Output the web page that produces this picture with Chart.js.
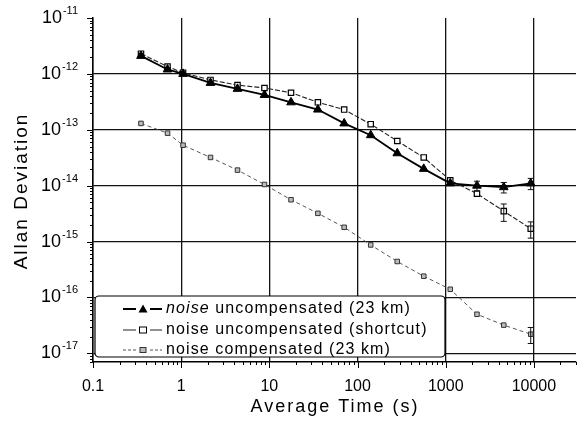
<!DOCTYPE html>
<html>
<head>
<meta charset="utf-8">
<script src="https://cdn.jsdelivr.net/npm/chart.js@4.4.0/dist/chart.umd.min.js"></script>
<style>
  body { margin: 0; background: #fff; }
  #wrap { width: 585px; height: 430px; }
</style>
</head>
<body>
<div id="wrap"><canvas id="allanChart" width="585" height="430"></canvas></div>
<script>
// averaging times (s)
const tau = [0.35, 0.7, 1.05, 2.15, 4.35, 8.8, 17.6, 35.5, 70.5, 141, 282, 563, 1125, 2260, 4550, 9200];

// noise uncompensated (23 km)
const uncomp23 = [2.1e-12, 1.2e-12, 1.0e-12, 6.9e-13, 5.4e-13, 4.2e-13, 3.1e-13, 2.3e-13, 1.3e-13, 8.0e-14, 3.8e-14, 2.0e-14, 1.1e-14, 1.0e-14, 9.4e-15, 1.1e-14];
const uncomp23Err = [0, 0, 0, 0, 0, 0, 0, 0, 0, 0, 0, 0, 0, 2.0e-15, 2.0e-15, 2.5e-15];

// noise uncompensated (shortcut)
const shortcut = [2.3e-12, 1.35e-12, 1.05e-12, 7.8e-13, 6.3e-13, 5.6e-13, 4.6e-13, 3.1e-13, 2.3e-13, 1.26e-13, 6.3e-14, 3.2e-14, 1.25e-14, 7.2e-15, 3.5e-15, 1.7e-15];
const shortcutErr = [0, 0, 0, 0, 0, 0, 0, 0, 0, 0, 0, 0, 0, 0, 1.2e-15, 0.55e-15];

// noise compensated (23 km)
const comp23 = [1.3e-13, 8.7e-14, 5.3e-14, 3.2e-14, 1.9e-14, 1.05e-14, 5.6e-15, 3.2e-15, 1.8e-15, 8.7e-16, 4.4e-16, 2.4e-16, 1.4e-16, 5.0e-17, 3.2e-17, 2.2e-17];
const comp23Err = [0, 0, 0, 0, 0, 0, 0, 0, 0, 0, 0, 0, 0, 0, 0, 0.7e-17];

const xTickVals = [0.1, 1, 10, 100, 1000, 10000];
const xTickText = ['0.1', '1', '10', '100', '1000', '10000'];
const yExps = [-11, -12, -13, -14, -15, -16, -17];

const FONT = '"Liberation Sans", Arial, sans-serif';

function pts(vals) {
    return tau.map((t, i) => ({ x: t, y: vals[i] }));
}

function drawMarker(ctx, style, x, y) {
    ctx.save();
    ctx.setLineDash([]);
    if (style === 'tri') {
        ctx.fillStyle = '#000';
        ctx.beginPath();
        ctx.moveTo(x, y - 4.5);
        ctx.lineTo(x + 4.5, y + 3.5);
        ctx.lineTo(x - 4.5, y + 3.5);
        ctx.closePath();
        ctx.fill();
    } else if (style === 'open') {
        ctx.fillStyle = '#fff';
        ctx.strokeStyle = '#000';
        ctx.lineWidth = 1;
        ctx.fillRect(x - 3.5, y - 3, 7, 6);
        ctx.strokeRect(x - 3.5, y - 3, 7, 6);
    } else {
        ctx.fillStyle = '#bbb';
        ctx.strokeStyle = '#333';
        ctx.lineWidth = 1;
        ctx.fillRect(x - 3, y - 2.5, 6, 5);
        ctx.strokeRect(x - 3, y - 2.5, 6, 5);
    }
    ctx.restore();
}

const decor = {
    id: 'decor',
    afterDatasetsDraw(chart) {
        const ctx = chart.ctx;
        const xs = chart.scales.x, ys = chart.scales.y;
        const sets = [[uncomp23, uncomp23Err], [shortcut, shortcutErr], [comp23, comp23Err]];
        ctx.save();
        ctx.strokeStyle = '#111';
        ctx.lineWidth = 1;
        sets.forEach(([vals, errs]) => {
            errs.forEach((e, i) => {
                if (!e) return;
                const px = xs.getPixelForValue(tau[i]);
                const top = ys.getPixelForValue(vals[i] + e);
                const bot = ys.getPixelForValue(vals[i] - e);
                ctx.beginPath();
                ctx.moveTo(px, top); ctx.lineTo(px, bot);
                ctx.moveTo(px - 3, top); ctx.lineTo(px + 3, top);
                ctx.moveTo(px - 3, bot); ctx.lineTo(px + 3, bot);
                ctx.stroke();
            });
        });
        ctx.restore();
    },
    afterDraw(chart) {
        const ctx = chart.ctx;
        const xs = chart.scales.x, ys = chart.scales.y;
        const area = chart.chartArea;
        ctx.save();

        // minor and major ticks
        ctx.strokeStyle = '#000';
        ctx.lineWidth = 1;
        ctx.beginPath();
        for (let d = -18; d <= -11; d++) {
            for (let k = 1; k <= 9; k++) {
                const v = k * Math.pow(10, d);
                if (v < ys.min || v > ys.max * 1.0001) continue;
                const py = Math.round(ys.getPixelForValue(v)) + 0.5;
                const len = k === 1 ? 6 : 3;
                ctx.moveTo(area.left, py); ctx.lineTo(area.left - len, py);
            }
        }
        for (let d = -1; d <= 4; d++) {
            for (let k = 1; k <= 9; k++) {
                const v = k * Math.pow(10, d);
                if (v < xs.min * 0.9999 || v > xs.max) continue;
                const px = Math.round(xs.getPixelForValue(v)) + 0.5;
                const len = k === 1 ? 6 : 3;
                ctx.moveTo(px, area.bottom); ctx.lineTo(px, area.bottom + len);
            }
        }
        ctx.stroke();

        // y tick labels 10^n
        ctx.fillStyle = '#000';
        yExps.forEach(n => {
            const py = ys.getPixelForValue(Math.pow(10, n));
            ctx.textAlign = 'right';
            ctx.textBaseline = 'middle';
            ctx.font = '11px ' + FONT;
            const sup = String(n);
            const sw = ctx.measureText(sup).width;
            ctx.fillText(sup, 78, py - 7);
            ctx.font = '18px ' + FONT;
            ctx.fillText('10', 78 - sw - 1, py);
        });

        // x tick labels
        ctx.font = '16px ' + FONT;
        ctx.textAlign = 'center';
        ctx.textBaseline = 'middle';
        xTickVals.forEach((v, i) => {
            ctx.fillText(xTickText[i], xs.getPixelForValue(v), 387);
        });

        // axis titles
        ctx.font = '18px ' + FONT;
        ctx.letterSpacing = '2px';
        ctx.fillText('Average Time (s)', 335, 407);
        ctx.save();
        ctx.translate(22, 191);
        ctx.rotate(-Math.PI / 2);
        ctx.font = '19px ' + FONT;
        ctx.letterSpacing = '2px';
        ctx.fillText('Allan Deviation', 0, 0);
        ctx.restore();
        ctx.letterSpacing = '0px';

        // legend box
        const bx = area.left + 2, by = 296, bw = 350, bh = 61;
        ctx.beginPath();
        ctx.roundRect(bx, by, bw, bh, 4);
        ctx.fillStyle = '#fff';
        ctx.fill();
        ctx.strokeStyle = '#000';
        ctx.lineWidth = 1.2;
        ctx.stroke();

        const rows = [
            { y: 309, style: 'tri', lw: 1.8, dash: [], color: '#000' },
            { y: 330, style: 'open', lw: 1, dash: [], color: '#222' },
            { y: 350, style: 'comp', lw: 1, dash: [3, 2], color: '#555' }
        ];
        rows.forEach(r => {
            ctx.save();
            ctx.strokeStyle = r.color;
            ctx.lineWidth = r.lw;
            ctx.setLineDash(r.dash);
            ctx.beginPath();
            ctx.moveTo(123, r.y); ctx.lineTo(136, r.y);
            ctx.moveTo(150, r.y); ctx.lineTo(162, r.y);
            ctx.stroke();
            ctx.restore();
            drawMarker(ctx, r.style, 143, r.y);
        });

        ctx.fillStyle = '#000';
        ctx.textAlign = 'left';
        ctx.textBaseline = 'middle';
        ctx.letterSpacing = '1.1px';
        ctx.font = 'italic 16px ' + FONT;
        ctx.fillText('noise', 166, 309);
        const nw = ctx.measureText('noise ').width;
        ctx.font = '16px ' + FONT;
        ctx.fillText('uncompensated (23 km)', 166 + nw, 309);
        ctx.fillText('noise uncompensated (shortcut)', 166, 330);
        ctx.fillText('noise compensated (23 km)', 166, 350);
        ctx.restore();
    }
};

function gridColor(c) {
    const v = c.tick && c.tick.value;
    if (v === undefined) return 'rgba(0,0,0,0)';
    const lg = Math.log10(v);
    if (Math.abs(lg - Math.round(lg)) > 1e-6) return 'rgba(0,0,0,0)';
    if (c.scale.axis === 'y' && Math.round(lg) === -11) return 'rgba(0,0,0,0)';
    return '#111';
}

function decadeTicks(scale) {
    const out = [];
    const lo = Math.ceil(Math.log10(scale.min) - 1e-9);
    const hi = Math.floor(Math.log10(scale.max) + 1e-9);
    for (let d = lo; d <= hi; d++) out.push({ value: Math.pow(10, d), major: true });
    scale.ticks = out;
}

const ctxEl = document.getElementById('allanChart').getContext('2d');

new Chart(ctxEl, {
    type: 'line',
    data: {
        datasets: [
            {
                label: 'noise uncompensated (23 km)',
                data: pts(uncomp23),
                borderColor: '#000',
                borderWidth: 1.8,
                backgroundColor: '#000',
                pointStyle: 'triangle',
                pointRadius: 5,
                pointBorderWidth: 1,
                pointBorderColor: '#000',
                pointBackgroundColor: '#000',
                tension: 0
            },
            {
                label: 'noise uncompensated (shortcut)',
                data: pts(shortcut),
                borderColor: '#222',
                borderWidth: 1.1,
                borderDash: [5, 2],
                pointStyle: 'rect',
                pointRadius: 3.8,
                pointBorderWidth: 1.2,
                pointBorderColor: '#000',
                pointBackgroundColor: '#fff',
                tension: 0
            },
            {
                label: 'noise compensated (23 km)',
                data: pts(comp23),
                borderColor: '#444',
                borderWidth: 0.9,
                borderDash: [4, 3],
                pointStyle: 'rect',
                pointRadius: 3.2,
                pointBorderWidth: 1,
                pointBorderColor: '#333',
                pointBackgroundColor: '#bbb',
                tension: 0
            }
        ]
    },
    options: {
        responsive: false,
        animation: false,
        devicePixelRatio: 1,
        layout: { padding: { left: 93, top: 18, right: 9, bottom: 68 } },
        plugins: { legend: { display: false }, tooltip: { enabled: false } },
        scales: {
            x: {
                type: 'logarithmic',
                min: 0.1,
                max: 30000,
                afterBuildTicks: decadeTicks,
                ticks: { display: false },
                grid: { color: gridColor, lineWidth: 1.3, drawTicks: false },
                border: { display: true, color: '#000', width: 1.5 }
            },
            y: {
                type: 'logarithmic',
                min: 7.2e-18,
                max: 1e-11,
                afterBuildTicks: decadeTicks,
                ticks: { display: false },
                grid: { color: gridColor, lineWidth: 1.3, drawTicks: false },
                border: { display: true, color: '#000', width: 1.5 }
            }
        }
    },
    plugins: [decor]
});
</script>
</body>
</html>
